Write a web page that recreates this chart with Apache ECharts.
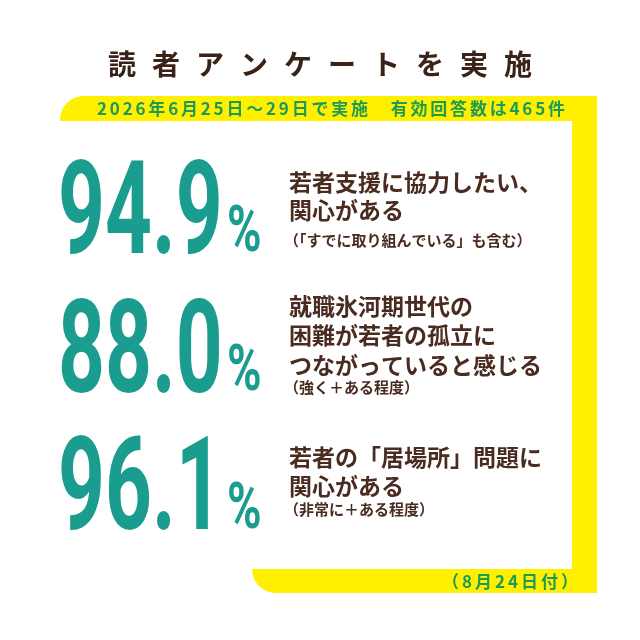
<!DOCTYPE html>
<html>
<head>
<meta charset="utf-8">
<script src="https://cdn.jsdelivr.net/npm/echarts@6/dist/echarts.min.js"></script>
<style>
  html, body { margin: 0; padding: 0; background: #fff; }
  #main { width: 640px; height: 640px; }
</style>
</head>
<body>
<div id="main"></div>
<script>
// 読者アンケート 結果
const titleText = '読者アンケートを実施';
const surveyText = '2026年6月25日～29日で実施　有効回答数は465件';
const issueText = '（8月24日付）';
const rates = [94.9, 88.0, 96.1];
const headlines = [
    ['若者支援に協力したい、', '関心がある'],
    ['就職氷河期世代の', '困難が若者の孤立に', 'つながっていると感じる'],
    ['若者の「居場所」問題に', '関心がある']
];
const notes = ['（「すでに取り組んでいる」も含む）', '（強く＋ある程度）', '（非常に＋ある程度）'];

// layout
const rowCenter = [211, 350, 487];
const pctCenter = [231, 370, 508];
const headTop = [182, 306, 457];
const lineGap = [28, 29.5, 29];
const noteY = [240, 387, 509];

const TEAL = '#1a9c8e';
const YELLOW = '#fff000';
const GREEN = '#1e9a58';
const BROWN = '#4a2b20';
const JP = '"Noto Sans CJK JP", sans-serif';

let ctx = document.createElement('canvas').getContext('2d');

// 字間を広げて left-right に収める
function spacedRow(str, left, right, y, font, color) {
    ctx.font = font;
    let chars = Array.from(str);
    let widths = chars.map(c => ctx.measureText(c).width);
    let total = widths.reduce((a, b) => a + b, 0);
    let track = (right - left - total) / (chars.length - 1);
    let x = left, out = [];
    chars.forEach((c, i) => {
        out.push({
            type: 'text', x: x, y: y, silent: true,
            style: { text: c, font: font, fill: color, textAlign: 'left', align: 'left', textVerticalAlign: 'middle', verticalAlign: 'middle' }
        });
        x += widths[i] + track;
    });
    return out;
}

function txt(str, x, y, font, color, sx) {
    return {
        type: 'text', x: x, y: y, scaleX: sx || 1, silent: true,
        style: { text: str, font: font, fill: color, textAlign: 'left', align: 'left', textVerticalAlign: 'middle', verticalAlign: 'middle' }
    };
}

let els = [];

// 黄色の枠
els.push({ type: 'rect', shape: { x: 60, y: 96, width: 537, height: 25, r: [24, 0, 0, 0] }, style: { fill: YELLOW } });
els.push({ type: 'rect', shape: { x: 572, y: 96, width: 25, height: 497 }, style: { fill: YELLOW } });
els.push({ type: 'rect', shape: { x: 252, y: 569, width: 345, height: 24, r: [0, 0, 0, 24] }, style: { fill: YELLOW } });

// タイトル
Array.from(titleText).forEach((c, i) => {
    els.push({
        type: 'text', x: 320 + (i - 4.5) * 44, y: 64, silent: true,
        style: { text: c, font: 'bold 28px ' + JP, fill: '#3a2219', textAlign: 'center', align: 'center', textVerticalAlign: 'middle', verticalAlign: 'middle' }
    });
});

els = els.concat(spacedRow(surveyText, 97, 565, 109, 'bold 17px ' + JP, GREEN));
els = els.concat(spacedRow(issueText, 442, 578, 582, 'bold 17px ' + JP, GREEN));

rates.forEach((v, i) => {
    els.push(txt(v.toFixed(1), 58, rowCenter[i] + 9, 'bold 130px Roboto', TEAL, 0.63));
    els.push(txt('%', 227, pctCenter[i] + 4, 'bold 65px Roboto', TEAL, 0.72));
    headlines[i].forEach((line, j) => {
        els.push(txt(line, 289, headTop[i] + j * lineGap[i], 'bold 23px ' + JP, BROWN));
    });
    els.push(txt(notes[i], 284, noteY[i], 'bold 15px ' + JP, BROWN));
});

let chart = echarts.init(document.getElementById('main'));
chart.setOption({
    backgroundColor: '#fff',
    animation: false,
    graphic: { elements: els }
});
window.onresize = function () {
    chart.resize();
};
</script>
</body>
</html>
